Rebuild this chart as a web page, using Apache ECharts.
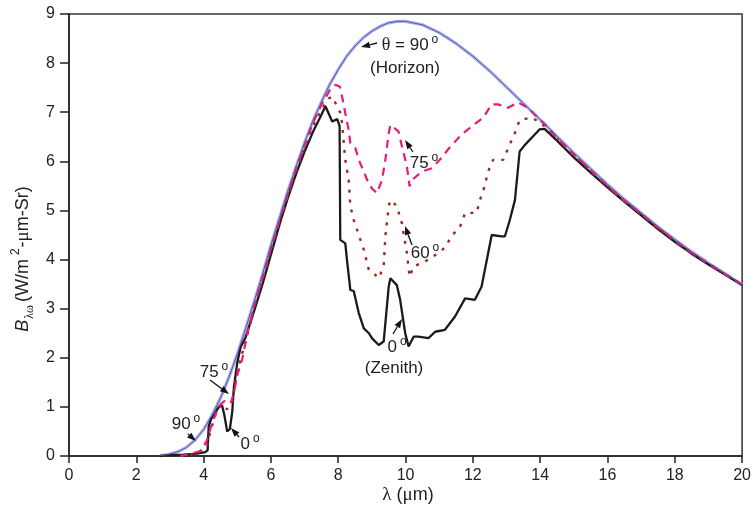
<!DOCTYPE html>
<html>
<head>
<meta charset="utf-8">
<script src="https://cdn.jsdelivr.net/npm/echarts@6/dist/echarts.min.js"></script>
<style>
  html, body { margin: 0; padding: 0; background: #fff; }
  #chart { width: 754px; height: 514px; }
</style>
</head>
<body>
<div id="chart"></div>
<script>
// Spectral radiance B(λ) in W/m²-μm-Sr for several viewing angles θ
const xTicks = [0, 2, 4, 6, 8, 10, 12, 14, 16, 18, 20];
const yTicks = [0, 1, 2, 3, 4, 5, 6, 7, 8, 9];

// θ = 90° (horizon)
const horizon = [[2.7,0],[3.0,0.04],[3.25,0.09],[3.5,0.18],[3.75,0.33],[4.0,0.54],[4.25,0.83],[4.5,1.18],[4.75,1.6],[5.0,2.07],[5.25,2.6],[5.5,3.14],[5.75,3.7],[6.0,4.29],[6.25,4.84],[6.5,5.39],[6.75,5.9],[7.0,6.38],[7.25,6.83],[7.5,7.21],[7.75,7.57],[8.0,7.87],[8.25,8.14],[8.5,8.35],[8.75,8.52],[9.0,8.65],[9.25,8.75],[9.5,8.82],[9.75,8.85],[10,8.85],[10.5,8.78],[11,8.62],[11.5,8.4],[12,8.14],[12.5,7.84],[13,7.51],[13.5,7.18],[14,6.85],[14.5,6.51],[15,6.17],[15.5,5.85],[16,5.53],[16.5,5.23],[17,4.95],[17.5,4.67],[18,4.41],[18.5,4.16],[19,3.93],[19.5,3.71],[20,3.49]];

// θ = 75°
const angle75 = [[3.3,0],[3.6,0.04],[3.9,0.1],[4.0,0.2],[4.1,0.32],[4.2,0.55],[4.35,0.85],[4.5,1.05],[4.62,1.12],[4.8,1.07],[4.9,1.28],[5.0,1.65],[5.15,1.98],[5.3,2.5],[5.5,3.05],[5.75,3.62],[6.0,4.22],[6.25,4.78],[6.5,5.33],[6.75,5.85],[7.0,6.33],[7.25,6.78],[7.5,7.15],[7.75,7.45],[7.92,7.56],[8.05,7.52],[8.12,7.3],[8.21,6.98],[8.31,6.64],[8.36,6.37],[8.51,6.27],[8.61,6.03],[8.76,5.79],[8.86,5.62],[9.0,5.45],[9.15,5.35],[9.3,5.62],[9.4,6.03],[9.5,6.57],[9.55,6.74],[9.79,6.61],[9.89,6.31],[10.04,5.9],[10.12,5.49],[10.19,5.62],[10.48,5.79],[10.78,5.86],[11.07,6.07],[11.27,6.25],[11.67,6.55],[12.06,6.76],[12.31,6.89],[12.56,7.16],[12.75,7.16],[13.05,7.09],[13.34,7.2],[13.64,7.09],[13.93,6.89],[14.25,6.68],[14.5,6.47],[15,6.14],[15.5,5.82],[16,5.5],[16.5,5.2],[17,4.93],[17.5,4.65],[18,4.39],[18.5,4.14],[19,3.92],[19.5,3.7],[20,3.49]];

// θ = 60°
const angle60 = [[3.3,0],[3.8,0.05],[4.1,0.2],[4.2,0.5],[4.4,0.95],[4.55,1.05],[4.7,0.95],[4.85,1.1],[5.0,1.72],[5.15,2.1],[5.3,2.47],[5.5,3.02],[5.75,3.58],[6.0,4.18],[6.25,4.74],[6.5,5.3],[6.75,5.8],[7.0,6.28],[7.25,6.72],[7.5,7.05],[7.72,7.28],[7.82,7.32],[8.07,6.98],[8.12,6.74],[8.17,6.33],[8.21,6.03],[8.31,5.62],[8.36,5.09],[8.46,4.81],[8.61,4.5],[8.76,4.2],[8.91,3.79],[9.1,3.69],[9.2,3.62],[9.35,3.86],[9.4,4.47],[9.5,5.09],[9.55,5.21],[9.74,5.09],[9.89,4.74],[10.04,4.13],[10.12,3.65],[10.24,3.86],[10.58,3.96],[10.88,4.09],[11.17,4.24],[11.37,4.48],[11.62,4.67],[11.77,4.95],[12.11,4.95],[12.21,5.21],[12.35,5.49],[12.45,5.79],[12.6,6.03],[12.9,6.03],[13.05,6.27],[13.25,6.58],[13.39,6.84],[13.74,6.89],[14.03,6.78],[14.5,6.46],[15,6.12],[15.5,5.8],[16,5.49],[16.5,5.19],[17,4.92],[17.5,4.64],[18,4.38],[18.5,4.13],[19,3.91],[19.5,3.7],[20,3.49]];

// θ = 0° (zenith)
const zenith = [[2.7,0],[3.0,0.02],[3.4,0.03],[3.8,0.05],[4.05,0.08],[4.12,0.12],[4.15,0.6],[4.22,0.75],[4.32,0.85],[4.45,1.0],[4.55,1.03],[4.62,0.82],[4.7,0.5],[4.78,0.55],[4.85,0.9],[4.9,1.4],[5.0,1.9],[5.1,2.22],[5.25,2.42],[5.5,2.95],[5.75,3.5],[6.0,4.1],[6.25,4.7],[6.5,5.25],[6.75,5.75],[7.0,6.2],[7.25,6.6],[7.5,6.95],[7.62,7.12],[7.82,6.81],[7.97,6.86],[8.04,6.72],[8.06,4.4],[8.21,4.33],[8.26,3.99],[8.36,3.38],[8.46,3.36],[8.61,2.91],[8.76,2.6],[8.91,2.5],[9.0,2.4],[9.2,2.26],[9.35,2.33],[9.5,3.45],[9.55,3.62],[9.74,3.48],[9.84,3.18],[9.99,2.5],[10.09,2.23],[10.24,2.43],[10.38,2.43],[10.68,2.4],[10.88,2.53],[11.17,2.57],[11.47,2.84],[11.77,3.21],[12.06,3.18],[12.26,3.45],[12.56,4.5],[12.85,4.47],[12.95,4.47],[13.1,4.81],[13.25,5.21],[13.39,6.2],[13.54,6.33],[13.79,6.51],[13.98,6.65],[14.13,6.66],[14.5,6.42],[15,6.08],[15.5,5.77],[16,5.47],[16.5,5.18],[17,4.9],[17.5,4.62],[18,4.36],[18.5,4.12],[19,3.9],[19.5,3.69],[20,3.48]];

const FONT = '"Liberation Sans", Arial, Helvetica, sans-serif';
const SERIF = '"Liberation Serif", "Times New Roman", serif';
const INK = '#222';

const chart = echarts.init(document.getElementById('chart'), null, { renderer: 'canvas' });

// straight arrow from (x1,y1) with a filled head at (x2,y2)
function arrow(x1, y1, x2, y2) {
  const a = Math.atan2(y2 - y1, x2 - x1);
  const L = 9, W = 3.2;
  const bx = x2 - L * Math.cos(a), by = y2 - L * Math.sin(a);
  const px = -Math.sin(a) * W, py = Math.cos(a) * W;
  return [
    { type: 'line', silent: true, z: 100,
      shape: { x1: x1, y1: y1, x2: bx, y2: by },
      style: { stroke: '#111', lineWidth: 1.3 } },
    { type: 'polygon', silent: true, z: 100,
      shape: { points: [[x2, y2], [bx + px, by + py], [bx - px, by - py]] },
      style: { fill: '#111' } }
  ];
}

// annotation text; {d|o} is a raised degree mark
function label(text, x, y) {
  return {
    type: 'text', silent: true, z: 100, x: x, y: y,
    style: {
      text: text, fill: INK, font: '17px ' + FONT,
      align: 'center', verticalAlign: 'middle',
      rich: {
        d: { fontSize: 12, fontFamily: FONT, fill: INK, verticalAlign: 'top', lineHeight: 22, padding: [0, 0, 0, 3] },
        n: { fontSize: 17, fontFamily: FONT, fill: INK, lineHeight: 22 },
        g: { fontSize: 18, fontFamily: SERIF, fill: INK, lineHeight: 22 }
      }
    }
  };
}

const graphics = [
  // horizon label
  label('{g|θ}{n| = 90}{d|o}', 410, 45),
  label('{n|(Horizon)}', 405, 68),
  ...arrow(377, 43, 361, 47),
  // upper 75° label
  label('{n|75}{d|o}', 424, 163),
  ...arrow(413, 152, 405, 140),
  // 60° label
  label('{n|60}{d|o}', 425, 253),
  ...arrow(412, 245, 405, 226),
  // zenith label
  label('{n|0}{d|o}', 397, 347),
  label('{n|(Zenith)}', 394, 368),
  ...arrow(393, 334, 402, 319),
  // lower-left labels
  label('{n|75}{d|o}', 214, 372),
  ...arrow(210, 380, 229, 394),
  label('{n|90}{d|o}', 186, 424),
  ...arrow(188, 434, 196, 441),
  label('{n|0}{d|o}', 250, 444),
  ...arrow(239, 437, 231, 428),
  // axis titles
  {
    type: 'text', silent: true, z: 100, x: 408, y: 495,
    style: {
      text: '{g|λ}{n| (}{g|μ}{n|m)}', align: 'center', verticalAlign: 'middle',
      rich: {
        g: { fontSize: 19, fontFamily: SERIF, fill: INK },
        n: { fontSize: 18, fontFamily: FONT, fill: INK }
      }
    }
  },
  {
    type: 'text', silent: true, z: 100, x: 23, y: 259, rotation: Math.PI / 2,
    style: {
      text: '{b|B}{s|λω}{n|(W/m}{p|2}{n|-}{g|μ}{n|m-Sr)}',
      align: 'center', verticalAlign: 'middle',
      rich: {
        b: { fontSize: 18, fontStyle: 'italic', fontFamily: FONT, fill: INK, lineHeight: 26 },
        s: { fontSize: 12, fontFamily: SERIF, fill: INK, verticalAlign: 'bottom', lineHeight: 26, padding: [0, 3, 0, 1] },
        n: { fontSize: 18, fontFamily: FONT, fill: INK, lineHeight: 26 },
        p: { fontSize: 12, fontFamily: FONT, fill: INK, verticalAlign: 'top', lineHeight: 26, padding: [0, 1, 0, 4] },
        g: { fontSize: 19, fontFamily: SERIF, fill: INK, lineHeight: 26 }
      }
    }
  }
];

chart.setOption({
  animation: false,
  backgroundColor: '#fff',
  grid: {
    left: 69, right: 9, top: 14, bottom: 58,
    show: true, borderColor: '#333', borderWidth: 1.5, backgroundColor: 'transparent'
  },
  xAxis: {
    type: 'value', min: xTicks[0], max: xTicks[xTicks.length - 1], interval: 2,
    axisLine: { lineStyle: { color: '#222', width: 1.5 } },
    axisTick: { inside: false, length: 7, lineStyle: { color: '#222', width: 1.5 } },
    axisLabel: { color: INK, fontSize: 16, fontFamily: FONT, margin: 12 },
    splitLine: { show: false }
  },
  yAxis: {
    type: 'value', min: yTicks[0], max: yTicks[yTicks.length - 1], interval: 1,
    axisLine: { show: true, lineStyle: { color: '#222', width: 1.5 } },
    axisTick: { show: true, inside: false, length: 9, lineStyle: { color: '#222', width: 1.5 } },
    axisLabel: { color: INK, fontSize: 16, fontFamily: FONT, margin: 14 },
    splitLine: { show: false }
  },
  series: [
    { name: 'θ = 90° halo', type: 'line', data: horizon, showSymbol: false, z: 2,
      lineStyle: { color: '#aeb3e6', width: 3.2 } },
    { name: 'θ = 0°', type: 'line', data: zenith, showSymbol: false, z: 3,
      lineStyle: { color: '#1b1b1b', width: 2.3 } },
    { name: 'θ = 60°', type: 'line', data: angle60, showSymbol: false, z: 4,
      lineStyle: { color: '#9c2a24', width: 2.4, type: [3, 7] } },
    { name: 'θ = 75°', type: 'line', data: angle75, showSymbol: false, z: 5,
      lineStyle: { color: '#e8197f', width: 2.2, type: [8, 6] } },
    { name: 'θ = 90°', type: 'line', data: horizon, showSymbol: false, z: 6,
      lineStyle: { color: '#5058b4', width: 1 } }
  ],
  graphic: graphics
});
</script>
</body>
</html>
